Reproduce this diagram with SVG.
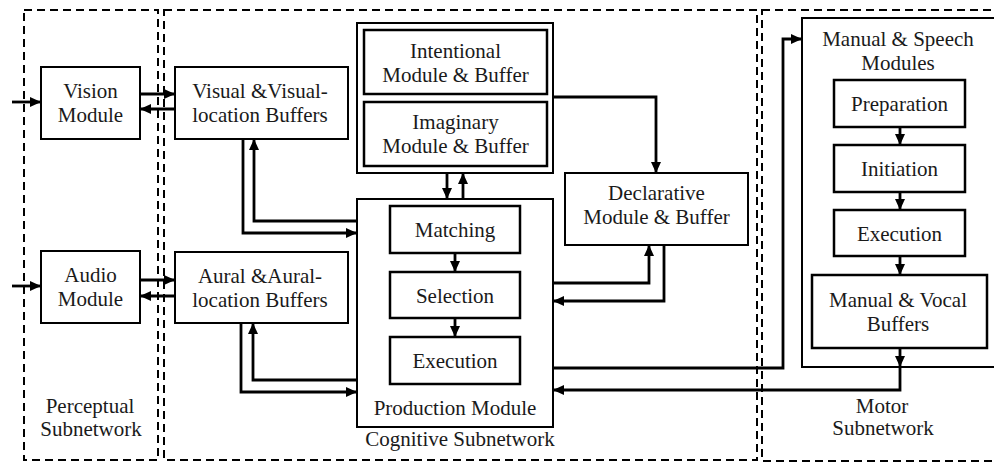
<svg xmlns="http://www.w3.org/2000/svg" width="994" height="464" viewBox="0 0 994 464">
  <style>
    .zone { fill: none; stroke: #000; stroke-width: 2; stroke-dasharray: 8 5; }
    .box { fill: #fff; stroke: #000; stroke-width: 2; }
    .box2 { fill: #fff; stroke: #000; stroke-width: 2.5; }
    .arr { fill: none; stroke: #000; stroke-width: 2.8; marker-end: url(#head); }
    .lbl { font-size: 21px; fill: #1a1a1a; text-anchor: middle; }
  </style>
  <defs>
    <marker id="head" viewBox="0 0 11 10" refX="11" refY="5" markerWidth="11" markerHeight="10" markerUnits="userSpaceOnUse" orient="auto" preserveAspectRatio="none">
      <path d="M0,0 L11,5 L0,10 Z" fill="#000"/>
    </marker>
  </defs>

  <rect width="994" height="464" fill="#fff"/>

  <g font-family="'Liberation Serif', 'DejaVu Serif', serif">
  <!-- Subnetwork regions -->
  <g id="perceptual-subnetwork">
    <rect class="zone" x="24" y="10" width="134" height="450"/>
    <text class="lbl" x="90" y="413">Perceptual</text>
    <text class="lbl" x="91" y="436">Subnetwork</text>
  </g>
  <g id="cognitive-subnetwork">
    <rect class="zone" x="164" y="10" width="593" height="450"/>
    <text class="lbl" x="460" y="446">Cognitive Subnetwork</text>
  </g>
  <g id="motor-subnetwork">
    <rect class="zone" x="762" y="10" width="260" height="451"/>
    <text class="lbl" x="882" y="413">Motor</text>
    <text class="lbl" x="883" y="435">Subnetwork</text>
  </g>

  <!-- Perceptual modules -->
  <g id="vision-module">
    <rect class="box" x="41" y="67" width="99" height="72"/>
    <text class="lbl" x="90.5" y="98">Vision</text>
    <text class="lbl" x="90.5" y="122">Module</text>
  </g>
  <g id="audio-module">
    <rect class="box" x="41" y="251" width="99" height="72"/>
    <text class="lbl" x="90.5" y="282">Audio</text>
    <text class="lbl" x="90.5" y="306">Module</text>
  </g>

  <!-- Perceptual buffers -->
  <g id="visual-buffers">
    <rect class="box" x="175" y="67" width="173" height="72"/>
    <text class="lbl" x="260" y="98">Visual &amp;Visual-</text>
    <text class="lbl" x="260" y="122">location Buffers</text>
  </g>
  <g id="aural-buffers">
    <rect class="box" x="175" y="252" width="173" height="71"/>
    <text class="lbl" x="260" y="283">Aural &amp;Aural-</text>
    <text class="lbl" x="260" y="307">location Buffers</text>
  </g>

  <!-- Goal / imaginal pair -->
  <g id="intentional-imaginary">
    <rect class="box" x="357" y="23" width="196" height="150"/>
    <rect class="box2" x="364" y="30" width="183" height="64"/>
    <text class="lbl" x="455.5" y="58">Intentional</text>
    <text class="lbl" x="455.5" y="82">Module &amp; Buffer</text>
    <rect class="box2" x="364" y="102" width="183" height="64"/>
    <text class="lbl" x="455.5" y="129">Imaginary</text>
    <text class="lbl" x="455.5" y="153">Module &amp; Buffer</text>
  </g>

  <!-- Production system -->
  <g id="production-module">
    <rect class="box" x="357" y="199" width="196" height="228"/>
    <text class="lbl" x="455" y="415">Production Module</text>
  </g>
  <g id="matching">
    <rect class="box2" x="390" y="206" width="130" height="47"/>
    <text class="lbl" x="455" y="237">Matching</text>
  </g>
  <g id="selection">
    <rect class="box2" x="390" y="272" width="130" height="46"/>
    <text class="lbl" x="455" y="303">Selection</text>
  </g>
  <g id="execution">
    <rect class="box2" x="390" y="337" width="130" height="47"/>
    <text class="lbl" x="455" y="368">Execution</text>
  </g>

  <!-- Declarative memory -->
  <g id="declarative">
    <rect class="box" x="565" y="173" width="183" height="72"/>
    <text class="lbl" x="656.5" y="200">Declarative</text>
    <text class="lbl" x="656.5" y="224">Module &amp; Buffer</text>
  </g>

  <!-- Motor side -->
  <g id="manual-speech-modules">
    <rect class="box" x="802" y="18" width="220" height="349"/>
    <text class="lbl" x="898" y="46">Manual &amp; Speech</text>
    <text class="lbl" x="898" y="70">Modules</text>
  </g>
  <g id="preparation">
    <rect class="box2" x="834" y="80" width="131" height="47"/>
    <text class="lbl" x="899.5" y="111">Preparation</text>
  </g>
  <g id="initiation">
    <rect class="box2" x="834" y="145" width="131" height="47"/>
    <text class="lbl" x="899.5" y="176">Initiation</text>
  </g>
  <g id="motor-execution">
    <rect class="box2" x="834" y="210" width="131" height="46"/>
    <text class="lbl" x="899.5" y="241">Execution</text>
  </g>
  <g id="manual-vocal-buffers">
    <rect class="box2" x="812" y="275" width="175" height="73"/>
    <text class="lbl" x="898" y="307">Manual &amp; Vocal</text>
    <text class="lbl" x="898" y="331">Buffers</text>
  </g>
  </g>

  <!-- Connectors -->
  <g id="connectors">
    <!-- external inputs -->
    <path class="arr" d="M12,102 H41"/>
    <path class="arr" d="M12,286 H41"/>
    <!-- perceptual modules and buffers -->
    <path class="arr" d="M140,94 H175"/>
    <path class="arr" d="M175,109 H140"/>
    <path class="arr" d="M140,280 H175"/>
    <path class="arr" d="M175,296 H140"/>
    <!-- buffers and production -->
    <path class="arr" d="M357,221 H254 V139"/>
    <path class="arr" d="M243,139 V233 H357"/>
    <path class="arr" d="M357,380 H253 V323"/>
    <path class="arr" d="M241,323 V392 H357"/>
    <!-- goal pair and production -->
    <path class="arr" d="M447,173 V199"/>
    <path class="arr" d="M463,199 V173"/>
    <!-- goal pair to declarative -->
    <path class="arr" d="M553,97 H656 V173"/>
    <!-- production and declarative -->
    <path class="arr" d="M553,283 H649 V245"/>
    <path class="arr" d="M664,245 V301 H553"/>
    <!-- production stages -->
    <path class="arr" d="M455,253 V272"/>
    <path class="arr" d="M455,318 V337"/>
    <!-- production to motor -->
    <path class="arr" d="M553,368 H783 V39 H802"/>
    <!-- motor stages -->
    <path class="arr" d="M900,127 V145"/>
    <path class="arr" d="M900,192 V210"/>
    <path class="arr" d="M900,256 V275"/>
    <path class="arr" d="M900,348 V367"/>
    <!-- motor buffers back to production -->
    <path class="arr" d="M900,367 V390 H553"/>
  </g>
</svg>
